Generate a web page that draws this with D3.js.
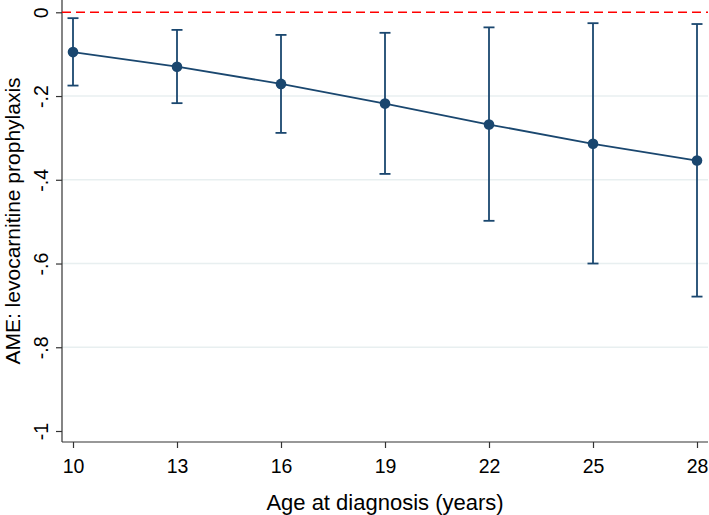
<!DOCTYPE html>
<html><head><meta charset="utf-8">
<script src="https://cdn.jsdelivr.net/npm/d3@7"></script>
<style>body{margin:0;background:#fff}svg{display:block}text{font-family:Arial,"Liberation Sans",sans-serif;fill:#000}</style>
</head><body>
<svg id="c" width="709" height="515"></svg>
<script>
const ages = [10, 13, 16, 19, 22, 25, 28];
const ame = [-0.095, -0.130, -0.171, -0.218, -0.268, -0.314, -0.354];
const ciLow = [-0.175, -0.217, -0.288, -0.386, -0.498, -0.600, -0.679];
const ciHigh = [-0.014, -0.042, -0.054, -0.049, -0.036, -0.026, -0.028];
const yTicks = [0, -0.2, -0.4, -0.6, -0.8, -1];
const yTickLabels = ["0", "-.2", "-.4", "-.6", "-.8", "-1"];
const xTitle = "Age at diagnosis (years)";
const yTitle = "AME: levocarnitine prophylaxis";

const svg = d3.select("#c");
const L = 62, R = 708, T = 0, B = 442;
const x = d3.scaleLinear().domain([10, 28]).range([73, 697]);
const y = d3.scaleLinear().domain([-1, 0]).range([431, 12.3]);
const col = "#1a476f";
const ff = "Arial, 'Liberation Sans', sans-serif";

// gridlines
svg.append("g").selectAll("line").data(yTicks.filter(v => v !== 0 && v !== -1)).join("line")
  .attr("x1", L).attr("x2", R).attr("y1", d => y(d)).attr("y2", d => y(d))
  .attr("stroke", "#e8eff0").attr("stroke-width", 1.5);

// y axis
const ya = d3.axisLeft(y).tickValues(yTicks).tickSize(6)
  .tickFormat((d, i) => yTickLabels[i]);
const gy = svg.append("g").attr("transform", `translate(${L},0)`).call(ya);
gy.select(".domain").remove();
gy.selectAll(".tick line").attr("stroke", "#333").attr("stroke-width", 1.2);
gy.selectAll(".tick text").attr("x", null).attr("dy", null)
  .attr("transform", "translate(-14,0) rotate(-90)")
  .attr("text-anchor", "middle").attr("font-size", 19.5).attr("font-family", ff);
svg.append("line").attr("x1", L).attr("x2", L).attr("y1", T).attr("y2", B)
  .attr("stroke", "#333").attr("stroke-width", 1.2);

// x axis
const xa = d3.axisBottom(x).tickValues(ages).tickSize(6).tickFormat(d3.format("d"));
const gx = svg.append("g").attr("transform", `translate(0,${B})`).call(xa);
gx.select(".domain").remove();
gx.selectAll(".tick line").attr("stroke", "#333").attr("stroke-width", 1.2);
gx.selectAll(".tick text").attr("y", 31).attr("dy", null).attr("font-size", 19.5).attr("font-family", ff);
svg.append("line").attr("x1", L).attr("x2", R).attr("y1", B).attr("y2", B)
  .attr("stroke", "#333").attr("stroke-width", 1.2);

// reference line
svg.append("line").attr("x1", L).attr("x2", R).attr("y1", y(0)).attr("y2", y(0))
  .attr("stroke", "#ff0000").attr("stroke-width", 1.5).attr("stroke-dasharray", "9,5");

// error bars
const data = ages.map((a, i) => ({a, m: ame[i], lo: ciLow[i], hi: ciHigh[i]}));
const eb = svg.append("g").attr("stroke", col).attr("stroke-width", 1.8);
eb.selectAll(".v").data(data).join("line")
  .attr("x1", d => x(d.a)).attr("x2", d => x(d.a)).attr("y1", d => y(d.lo)).attr("y2", d => y(d.hi));
eb.selectAll(".c1").data(data).join("line")
  .attr("x1", d => x(d.a) - 5.5).attr("x2", d => x(d.a) + 5.5).attr("y1", d => y(d.lo)).attr("y2", d => y(d.lo));
eb.selectAll(".c2").data(data).join("line")
  .attr("x1", d => x(d.a) - 5.5).attr("x2", d => x(d.a) + 5.5).attr("y1", d => y(d.hi)).attr("y2", d => y(d.hi));

// line
svg.append("path").datum(data)
  .attr("d", d3.line().x(d => x(d.a)).y(d => y(d.m)))
  .attr("fill", "none").attr("stroke", col).attr("stroke-width", 1.8);
svg.append("g").selectAll("circle").data(data).join("circle")
  .attr("cx", d => x(d.a)).attr("cy", d => y(d.m)).attr("r", 5.3).attr("fill", col);

// titles
svg.append("text").attr("x", (L + R) / 2).attr("y", 510).attr("text-anchor", "middle")
  .attr("font-size", 22).text(xTitle);
svg.append("text").attr("transform", `translate(20,${(T + B) / 2}) rotate(-90)`)
  .attr("text-anchor", "middle").attr("font-size", 21).text(yTitle);
</script>
</body></html>
